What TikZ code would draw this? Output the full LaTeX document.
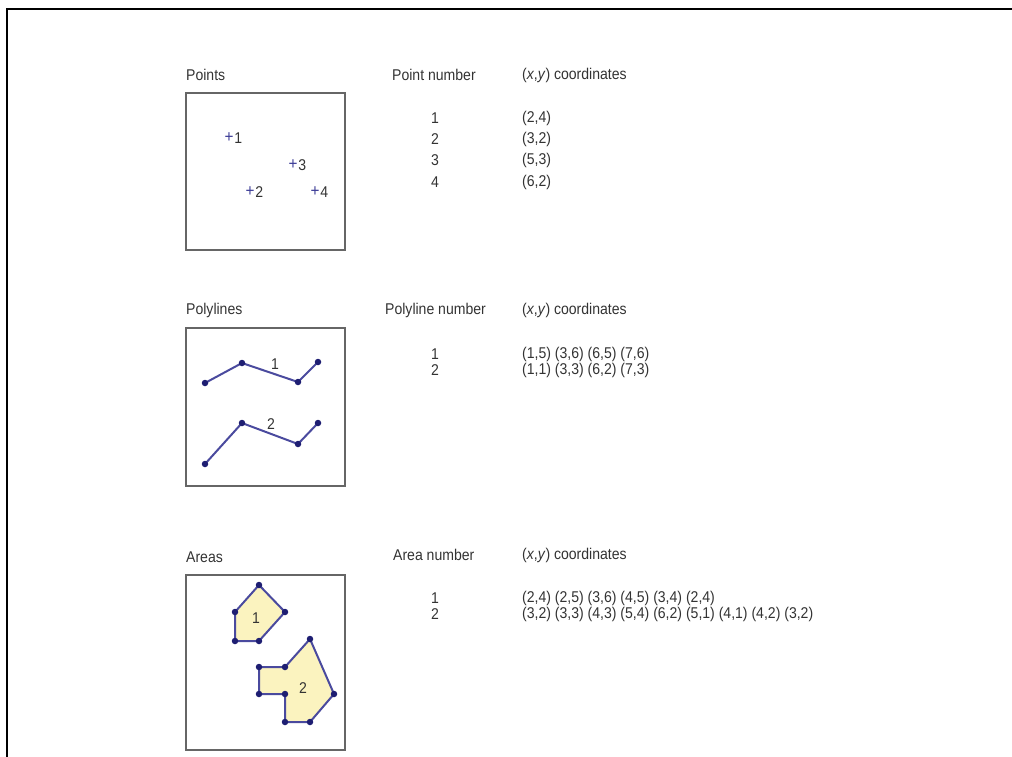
\documentclass[tikz,border=0pt]{standalone}
\usepackage{fontspec}
\setmainfont{Liberation Sans}[FakeStretch=0.9]
\definecolor{txt}{HTML}{333333}
\definecolor{boxgray}{HTML}{666666}
\definecolor{lineblue}{HTML}{4A4A9E}
\definecolor{dotblue}{HTML}{1E1E72}
\definecolor{plusblue}{HTML}{3C3C96}
\definecolor{areafill}{HTML}{FBF3BF}
\begin{document}
\begin{tikzpicture}[x=1pt,y=-1pt,
  lbl/.style={font=\fontsize{15.6}{17}\selectfont, text=txt, anchor=west, inner sep=0pt},
  num/.style={font=\fontsize{15.6}{17}\selectfont, text=txt, inner sep=0pt},
  pm/.style={font=\fontsize{17}{19}\selectfont, text=plusblue, inner sep=0pt},
  panel/.style={draw=boxgray, line width=1.6pt, anchor=north west, inner sep=0pt},
  pline/.style={draw=lineblue, line width=2pt, line join=round},
  apoly/.style={draw=lineblue, fill=areafill, line width=2pt, line join=round},
  vdot/.style={circle, fill=dotblue, inner sep=0pt, minimum size=6.5pt}
]
\useasboundingbox (0,0) rectangle (1012,756);
\draw[line width=2pt] (7,757) -- (7,9) -- (1013,9);

% ---------- Points ----------
\node[lbl] (tPoints) at (186,75) {Points};
\node[panel, minimum width=159pt, minimum height=157pt] (boxP) at (185,92) {};
\node[pm] (p1) at (229,138) {+}; \node[num, anchor=west] (p1l) at ([xshift=0.5pt]p1.east) {1};
\node[pm] (p2) at (250,192) {+}; \node[num, anchor=west] (p2l) at ([xshift=0.5pt]p2.east) {2};
\node[pm] (p3) at (293,165) {+}; \node[num, anchor=west] (p3l) at ([xshift=0.5pt]p3.east) {3};
\node[pm] (p4) at (315,192) {+}; \node[num, anchor=west] (p4l) at ([xshift=0.5pt]p4.east) {4};

\node[lbl] (hPN) at (392,75) {Point number};
\node[lbl] (hPC) at (522,75) {(\textit{x},\textit{y}) coordinates};
\node[num] (pn1) at (435,118) {1}; \node[lbl] (pc1) at (522,118) {(2,4)};
\node[num] (pn2) at (435,139) {2}; \node[lbl] (pc2) at (522,139) {(3,2)};
\node[num] (pn3) at (435,160) {3}; \node[lbl] (pc3) at (522,160) {(5,3)};
\node[num] (pn4) at (435,182) {4}; \node[lbl] (pc4) at (522,182) {(6,2)};

% ---------- Polylines ----------
\node[lbl] (tPoly) at (186,310) {Polylines};
\node[panel, minimum width=159pt, minimum height=158pt] (boxL) at (185,327) {};
\coordinate (a1) at (205,383); \coordinate (a2) at (242,363);
\coordinate (a3) at (298,382); \coordinate (a4) at (318,362);
\coordinate (b1) at (205,464); \coordinate (b2) at (242,423);
\coordinate (b3) at (298,444); \coordinate (b4) at (318,423);
\draw[pline] (a1) -- (a2) -- (a3) -- (a4);
\draw[pline] (b1) -- (b2) -- (b3) -- (b4);
\foreach \c in {a1,a2,a3,a4,b1,b2,b3,b4} \node[vdot] (d\c) at (\c) {};
\node[num] (l1) at (275,364) {1};
\node[num] (l2) at (271,424) {2};

\node[lbl] (hLN) at (385,310) {Polyline number};
\node[lbl] (hLC) at (522,310) {(\textit{x},\textit{y}) coordinates};
\node[num] (ln1) at (435,354) {1}; \node[lbl] (lc1) at (522,354) {(1,5) (3,6) (6,5) (7,6)};
\node[num] (ln2) at (435,370) {2}; \node[lbl] (lc2) at (522,370) {(1,1) (3,3) (6,2) (7,3)};

% ---------- Areas ----------
\node[lbl] (tAreas) at (186,557) {Areas};
\node[panel, minimum width=159pt, minimum height=175pt] (boxA) at (185,574) {};
\coordinate (c1) at (235,641); \coordinate (c2) at (235,612); \coordinate (c3) at (259,585);
\coordinate (c4) at (285,612); \coordinate (c5) at (259,641);
\coordinate (e1) at (259,694); \coordinate (e2) at (259,667); \coordinate (e3) at (285,667);
\coordinate (e4) at (310,639); \coordinate (e5) at (334,694); \coordinate (e6) at (310,722);
\coordinate (e7) at (285,722); \coordinate (e8) at (285,694);
\draw[apoly] (c1) -- (c2) -- (c3) -- (c4) -- (c5) -- cycle;
\draw[apoly] (e1) -- (e2) -- (e3) -- (e4) -- (e5) -- (e6) -- (e7) -- (e8) -- cycle;
\foreach \c in {c1,c2,c3,c4,c5,e1,e2,e3,e4,e5,e6,e7,e8} \node[vdot] (d\c) at (\c) {};
\node[num] (m1) at (256,618) {1};
\node[num] (m2) at (303,688) {2};

\node[lbl] (hAN) at (393,555) {Area number};
\node[lbl] (hAC) at (522,555) {(\textit{x},\textit{y}) coordinates};
\node[num] (an1) at (435,598) {1}; \node[lbl] (ac1) at (522,598) {(2,4) (2,5) (3,6) (4,5) (3,4) (2,4)};
\node[num] (an2) at (435,614) {2}; \node[lbl] (ac2) at (522,614) {(3,2) (3,3) (4,3) (5,4) (6,2) (5,1) (4,1) (4,2) (3,2)};
\end{tikzpicture}
\end{document}
